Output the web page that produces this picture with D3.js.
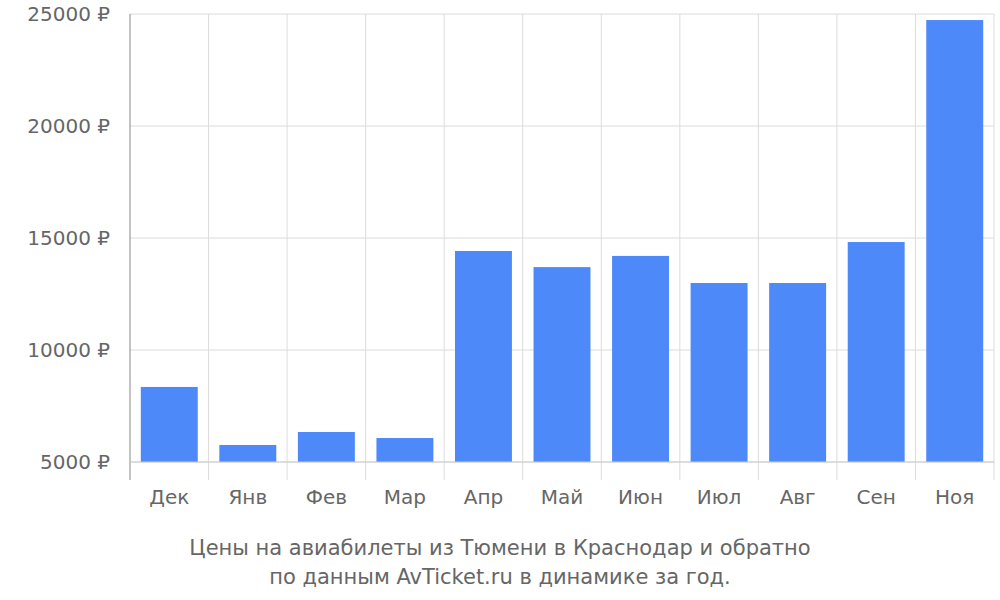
<!DOCTYPE html>
<html><head><meta charset="utf-8">
<script src="https://cdn.jsdelivr.net/npm/d3@7"></script>
<style>body{margin:0;background:#fff}text{font-family:"DejaVu Sans",sans-serif}</style>
</head><body>
<svg id="c" width="1000" height="600"></svg>
<script>
const categories = ["Дек","Янв","Фев","Мар","Апр","Май","Июн","Июл","Авг","Сен","Ноя"];
const prices = [8350,5760,6340,6070,14420,13700,14200,12990,12990,14820,24730];
const yTicks = [5000,10000,15000,20000,25000];
const titleLines = ["Цены на авиабилеты из Тюмени в Краснодар и обратно","по данным AvTicket.ru в динамике за год."];

const svg = d3.select("#c");
const L=130,R=994,T=14,B=462;
const x = d3.scaleBand().domain(categories).range([L,R]).paddingInner(0.275).paddingOuter(0.1375);
const y = d3.scaleLinear().domain([5000,25000]).range([B,T]);
const step = x.step();
const bounds = d3.range(categories.length+1).map(i=>L+i*step);

svg.selectAll(".hg").data(yTicks).join("line")
  .attr("x1",L).attr("x2",R).attr("y1",d=>y(d)).attr("y2",d=>y(d))
  .attr("stroke","#dcdcdc").attr("stroke-width",1);
svg.selectAll(".vg").data(bounds).join("line")
  .attr("x1",d=>d).attr("x2",d=>d).attr("y1",T).attr("y2",480)
  .attr("stroke","#dcdcdc").attr("stroke-width",1);
svg.selectAll(".bar").data(prices).join("rect")
  .attr("x",(d,i)=>x(categories[i])).attr("width",x.bandwidth())
  .attr("y",d=>y(d)).attr("height",d=>B-y(d)).attr("fill","#4d89f9");
svg.append("line").attr("x1",L).attr("x2",L).attr("y1",T).attr("y2",480).attr("stroke","#999");
svg.append("line").attr("x1",L).attr("x2",R).attr("y1",B).attr("y2",B).attr("stroke","#ccc");

svg.selectAll(".yl").data(yTicks).join("text")
  .attr("x",110).attr("y",d=>y(d)+7).attr("text-anchor","end")
  .attr("font-size",20).attr("fill","#666").text(d=>d+" ₽");
svg.selectAll(".xl").data(categories).join("text")
  .attr("x",d=>x(d)+x.bandwidth()/2).attr("y",504).attr("text-anchor","middle")
  .attr("font-size",20).attr("fill","#666").text(d=>d);
svg.selectAll(".tt").data(titleLines).join("text")
  .attr("x",500).attr("y",(d,i)=>555+i*29).attr("text-anchor","middle")
  .attr("font-size",21).attr("fill","#666").text(d=>d);
</script></body></html>
